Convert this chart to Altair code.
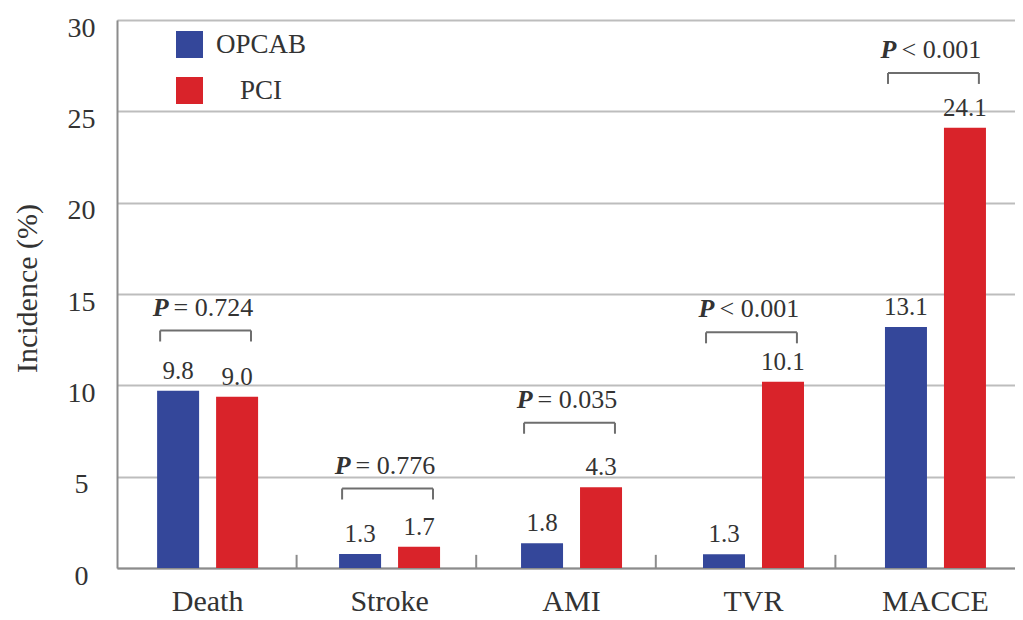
import altair as alt
import pandas as pd

categories = ["Death", "Stroke", "AMI", "TVR", "MACCE"]
groups = ["OPCAB", "PCI"]
opcab_values = [9.7, 0.77, 1.35, 0.75, 13.2]
pci_values = [9.38, 1.17, 4.42, 10.2, 24.1]
opcab_labels = ["9.8", "1.3", "1.8", "1.3", "13.1"]
pci_labels = ["9.0", "1.7", "4.3", "10.1", "24.1"]
p_symbols = ["=", "=", "=", "<", "<"]
p_values = ["0.724", "0.776", "0.035", "0.001", "0.001"]
bracket_levels = [13.0, 4.35, 7.95, 12.9, 27.1]
y_ticks = [0, 5, 10, 15, 20, 25, 30]

BLUE = "#34479a"
RED = "#d9232a"
TEXT = "#333333"
AXIS = "#8c8c8c"
GRID = "#bdbdbd"
BRACKET = "#6e6e6e"
FONT = "Liberation Serif"

bars_df = pd.DataFrame({
    "cat": categories * 2,
    "group": ["OPCAB"] * 5 + ["PCI"] * 5,
    "value": opcab_values + pci_values,
    "label": opcab_labels + pci_labels,
})
p_df = pd.DataFrame({
    "cat": categories,
    "level": bracket_levels,
    "end": [lv - 0.6 for lv in bracket_levels],
    "ptext": [f"{s} {v}" for s, v in zip(p_symbols, p_values)],
    "P": ["P"] * 5,
})
tick_df = pd.DataFrame({"cat": categories[1:]})

x_scale = alt.Scale(domain=categories, paddingInner=0.445, paddingOuter=0.19, align=0.58)
x_axis = alt.Axis(title=None, labelAngle=0, labelFontSize=30, labelColor=TEXT, labelFont=FONT,
                  labelPadding=18, ticks=False, tickSize=0, domainColor=AXIS, domainWidth=2)
x_enc = alt.X("cat:N", sort=categories, scale=x_scale, axis=x_axis)
xoff = alt.XOffset("group:N", scale=alt.Scale(domain=groups, paddingInner=0.288, paddingOuter=0))

y_axis = alt.Axis(values=y_ticks, grid=True, gridColor=GRID, gridWidth=2, domainColor=AXIS,
                  domainWidth=2, ticks=False, tickSize=0, labelFontSize=28, labelColor=TEXT,
                  labelFont=FONT, labelAlign="center", labelPadding=36, labelOffset=8,
                  title="Incidence (%)", titleFontSize=30, titleFontWeight="normal",
                  titleColor=TEXT, titleFont=FONT, titleX=-75, titleY=268, titleAngle=270,
                  titleBaseline="bottom", titleAlign="center")
y_enc = alt.Y("value:Q", scale=alt.Scale(domain=[0, 30], nice=False), axis=y_axis,
              title="Incidence (%)")

legend = alt.Legend(orient="none", legendX=59, legendY=11, title=None, symbolType="square",
                    symbolSize=729, symbolStrokeWidth=0, symbolOpacity=1, labelFontSize=27,
                    labelColor=TEXT, labelFont=FONT, labelAlign="center", labelOffset=58,
                    rowPadding=18, padding=0)

bars = alt.Chart(bars_df).mark_bar().encode(
    x=x_enc, xOffset=xoff, y=y_enc,
    color=alt.Color("group:N", scale=alt.Scale(domain=groups, range=[BLUE, RED]), legend=legend),
)

value_text = alt.Chart(bars_df).mark_text(
    baseline="alphabetic", dy=-12, fontSize=25, color=TEXT, font=FONT
).encode(x=x_enc, xOffset=xoff, y=alt.Y("value:Q", title="Incidence (%)"), text="label:N")

bracket_h = alt.Chart(p_df).mark_rule(color=BRACKET, strokeWidth=2).encode(
    x=alt.X("cat:N", sort=categories, bandPosition=0.03),
    x2=alt.X2("cat", bandPosition=0.93),
    y=alt.Y("level:Q", title="Incidence (%)"),
)
bracket_l = alt.Chart(p_df).mark_rule(color=BRACKET, strokeWidth=2).encode(
    x=alt.X("cat:N", sort=categories, bandPosition=0.03),
    y=alt.Y("level:Q", title="Incidence (%)"), y2="end:Q",
)
bracket_r = alt.Chart(p_df).mark_rule(color=BRACKET, strokeWidth=2).encode(
    x=alt.X("cat:N", sort=categories, bandPosition=0.93),
    y=alt.Y("level:Q", title="Incidence (%)"), y2="end:Q",
)
p_letter = alt.Chart(p_df).mark_text(
    baseline="alphabetic", align="right", dx=-39, dy=-15, fontSize=26, fontStyle="italic",
    fontWeight="bold", color=TEXT, font=FONT
).encode(x=alt.X("cat:N", sort=categories), y=alt.Y("level:Q", title="Incidence (%)"), text="P:N")
p_rest = alt.Chart(p_df).mark_text(
    baseline="alphabetic", align="left", dx=-34, dy=-15, fontSize=26, color=TEXT, font=FONT
).encode(x=alt.X("cat:N", sort=categories), y=alt.Y("level:Q", title="Incidence (%)"), text="ptext:N")

main = alt.layer(bars, value_text, bracket_h, bracket_l, bracket_r, p_letter, p_rest)

ticks = alt.Chart(tick_df).mark_rule(color=AXIS, strokeWidth=2).encode(
    x=alt.X("cat:N", bandPosition=0,
            scale=alt.Scale(domain=categories, paddingInner=0, paddingOuter=0), axis=None),
    y=alt.datum(0), y2=alt.datum(0.72),
)

chart = alt.layer(main, ticks).resolve_scale(x="independent").properties(
    width=898, height=548,
    padding={"left": 109, "top": 12, "right": 0, "bottom": 50},
    autosize=alt.AutoSizeParams(type="none"),
).configure_view(stroke=None).configure(font=FONT)

chart.save("out.html", embed_options={"renderer": "svg", "actions": False})
